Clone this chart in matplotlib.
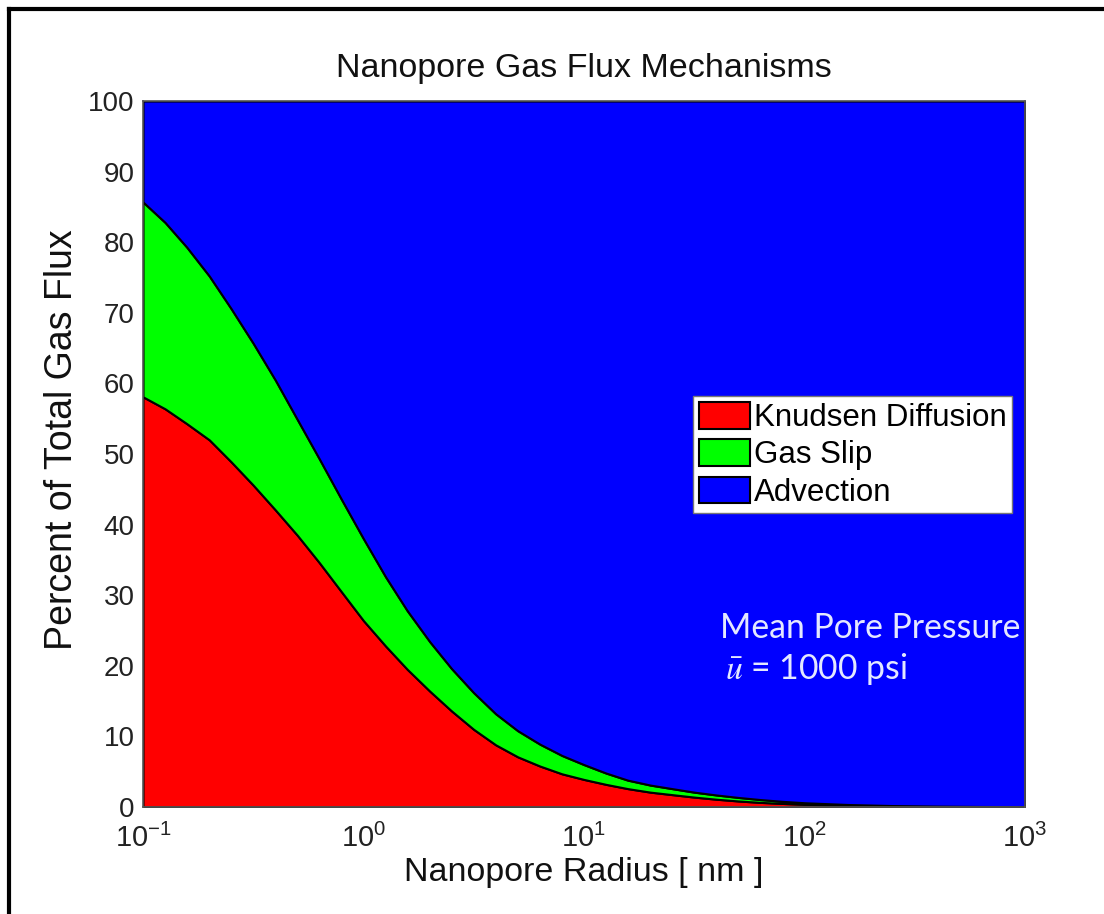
"""
plot.py
Stacked area chart of nanopore gas flux mechanisms vs pore radius.
"""

import matplotlib
matplotlib.use("Agg")
import matplotlib.pyplot as plt
from matplotlib.lines import Line2D
from matplotlib.patches import Patch
from matplotlib.ticker import FixedLocator, NullLocator

plt.rcParams['font.family'] = ['Liberation Sans', 'DejaVu Sans']
plt.rcParams['mathtext.fontset'] = 'custom'
plt.rcParams['mathtext.rm'] = 'Liberation Sans'
plt.rcParams['mathtext.it'] = 'Liberation Sans:italic'

# ---- data (radius in nm, share in percent) ----
radius = [0.1, 0.126, 0.158, 0.2, 0.251, 0.316, 0.398, 0.501, 0.631, 0.794,
          1.0, 1.26, 1.58, 2.0, 2.51, 3.16, 3.98, 5.01, 6.31, 7.94,
          10, 12.6, 15.8, 20, 25.1, 31.6, 39.8, 50.1, 63.1, 79.4,
          100, 158, 251, 398, 631, 1000]
knudsen = [58.1, 56.4, 54.3, 52.0, 48.9, 45.6, 42.1, 38.5, 34.6, 30.5,
           26.4, 22.8, 19.5, 16.4, 13.6, 11.0, 8.8, 7.1, 5.8, 4.7,
           3.9, 3.2, 2.6, 2.1, 1.75, 1.4, 1.1, 0.85, 0.65, 0.5,
           0.38, 0.22, 0.13, 0.08, 0.05, 0.03]
gas_slip = [27.6, 26.4, 25.0, 23.2, 21.7, 20.1, 18.4, 16.4, 14.7, 13.1,
            11.6, 9.8, 8.3, 7.0, 6.0, 5.2, 4.4, 3.7, 3.1, 2.6,
            2.1, 1.6, 1.2, 1.0, 0.85, 0.7, 0.6, 0.5, 0.4, 0.3,
            0.22, 0.13, 0.07, 0.04, 0.02, 0.01]
advection = [100 - k - s for k, s in zip(knudsen, gas_slip)]

labels = ["Knudsen Diffusion", "Gas Slip", "Advection"]
colors = ["#ff0000", "#00ff00", "#0000ff"]
x_ticks = [0.1, 1, 10, 100, 1000]
x_ticklabels = [r"$10^{-1}$", r"$10^{0}$", r"$10^{1}$", r"$10^{2}$", r"$10^{3}$"]
y_ticks = list(range(0, 101, 10))

fig = plt.figure(figsize=(11.04, 9.14), dpi=100)
ax = fig.add_axes([0.1295, 0.1171, 0.7989, 0.7724])

ax.stackplot(radius, knudsen, gas_slip, advection, colors=colors,
             edgecolor="black", linewidth=1.5)

ax.set_xscale("log")
ax.set_xlim(0.1, 1000)
ax.set_ylim(0, 100)
ax.xaxis.set_major_locator(FixedLocator(x_ticks))
ax.xaxis.set_minor_locator(NullLocator())
ax.set_xticklabels(x_ticklabels)
ax.set_yticks(y_ticks)
ax.tick_params(axis="both", length=0, colors="#222222")
ax.tick_params(axis="x", pad=12, labelsize=21)
ax.tick_params(axis="y", pad=6, labelsize=20)
for sp in ax.spines.values():
    sp.set_color("#555555")
    sp.set_linewidth(1.2)

ax.set_title("Nanopore Gas Flux Mechanisms", fontsize=24.5, pad=17, color="#111111")
ax.set_xlabel("Nanopore Radius [ nm ]", fontsize=24.5, labelpad=3, color="#111111")
ax.set_ylabel("Percent of Total Gas Flux", fontsize=27, labelpad=6, color="#111111")
ax.yaxis.label.set_y(0.52)

handles = [Patch(facecolor=c, edgecolor="black", linewidth=1.5) for c in colors]
leg = ax.legend(handles, labels, loc="upper left", bbox_to_anchor=(0.6236, 0.5822),
                borderaxespad=0, fontsize=22.5, frameon=True, fancybox=False,
                handlelength=1.65, handleheight=0.95, handletextpad=0.12,
                labelspacing=0.2, borderpad=0.18)
leg.get_frame().set_edgecolor("#777777")
leg.get_frame().set_linewidth(1.0)
leg.get_frame().set_alpha(1)

ax.text(0.654, 0.254, "Mean Pore Pressure", transform=ax.transAxes,
        fontsize=24.3, family="Lato", color="#e4e8ff", va="center", ha="left")
ax.text(0.660, 0.196, r"$\bar{u}$ = 1000 psi", transform=ax.transAxes,
        fontsize=24.3, family="Lato", math_fontfamily="stix", color="#e4e8ff",
        va="center", ha="left")

# outer frame lines (top and left edges of the pasted figure)
fig.add_artist(Line2D([9 / 1104, 1], [1 - 9 / 914, 1 - 9 / 914], transform=fig.transFigure,
                      color="black", linewidth=3))
fig.add_artist(Line2D([9 / 1104, 9 / 1104], [0, 1 - 9 / 914], transform=fig.transFigure,
                      color="black", linewidth=3))

fig.savefig("out.png", dpi=100)
